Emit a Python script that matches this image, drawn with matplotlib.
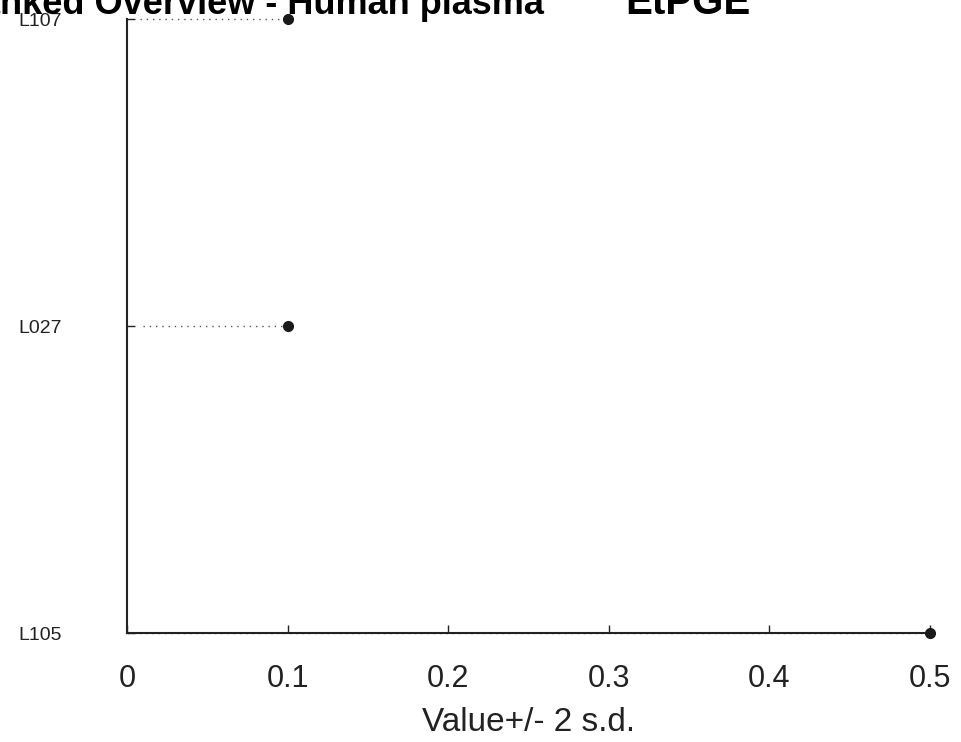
import matplotlib
matplotlib.use("Agg")
import matplotlib.pyplot as plt

plt.rcParams['font.family'] = ['Liberation Sans', 'DejaVu Sans']

labels = ["L105", "L027", "L107"]
values = [0.5, 0.1, 0.1]
lower = [0.0, 0.01, 0.008]
xticks = [0, 0.1, 0.2, 0.3, 0.4, 0.5]
xticklabels = ["0", "0.1", "0.2", "0.3", "0.4", "0.5"]
title_left = "Ranked Overview - Human plasma"
title_right = "EtPGE"
xlabel = "Value+/- 2 s.d."

W, H = 962, 742
fig = plt.figure(figsize=(W / 100, H / 100), dpi=100)
ax = fig.add_axes([127 / W, 1 - 633 / H, (930 - 127) / W, (633 - 19) / H])

ypos = list(range(len(labels)))
for y, v, lo in zip(ypos, values, lower):
    ax.plot([lo, v], [y, y], linestyle=(0, (1, 3.5)), color="#555555", lw=1.0,
            clip_on=False, zorder=2)
ax.plot(values, ypos, 'o', color="#1a1a1a", markersize=7, clip_on=False, zorder=4)

ax.set_xlim(0, 0.5)
ax.set_ylim(0, len(labels) - 1)
ax.set_xticks(xticks)
ax.set_xticklabels(xticklabels, fontsize=22)
ax.set_yticks(ypos)
ax.set_yticklabels(labels, fontsize=14)
ax.tick_params(axis='x', direction='in', length=6, width=1, pad=22, colors="#222222")
ax.tick_params(axis='y', direction='in', length=6, width=1, pad=47, colors="#222222")
for lab in ax.get_xticklabels() + ax.get_yticklabels():
    lab.set_color("#222222")
ax.set_xlabel(xlabel, fontsize=24, labelpad=10, color="#222222")
for s in ['top', 'right']:
    ax.spines[s].set_visible(False)
for s in ['left', 'bottom']:
    ax.spines[s].set_linewidth(1.5)
    ax.spines[s].set_color("#222222")

fig.text(-46 / W, 1 - 14 / H, title_left, fontsize=26, fontweight='bold',
         ha='left', va='baseline')
fig.text(625 / W, 1 - 14 / H, title_right, fontsize=29, fontweight='bold',
         ha='left', va='baseline')

fig.savefig("out.png", dpi=100, facecolor='white')
